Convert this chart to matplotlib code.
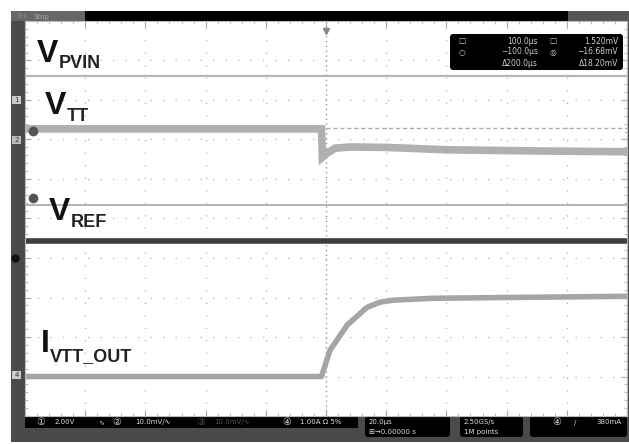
import matplotlib.pyplot as plt
from matplotlib.patches import Rectangle, FancyBboxPatch

# time in us (20 us/div), levels in screen divisions (10 x 10 graticule)
pvin_t = [-100, 100]
pvin_v = [3.62, 3.62]

vtt_t = [-100, -1.5, -1.2, 0.5, 3, 8, 20, 40, 70, 100]
vtt_v = [2.27, 2.27, 1.55, 1.66, 1.78, 1.81, 1.80, 1.74, 1.71, 1.69]

vtt_ref_t = [0, 100]
vtt_ref_v = [2.30, 2.30]

ref_line_t = [-100, 100]
ref_line_v = [0.34, 0.34]

vref_t = [-100, 100]
vref_v = [-0.57, -0.57]

iout_t = [-100, -1.5, 1.3, 7.0, 13.6, 17.9, 22, 35.5, 60, 100]
iout_v = [-4.0, -4.0, -3.34, -2.70, -2.25, -2.12, -2.07, -2.02, -2.0, -1.97]

marker_v = [2.22, 0.52]

labels = [('V', 'PVIN', 37, 62, 68),
          ('V', 'TT', 45, 114, 121),
          ('V', 'REF', 49, 220, 227),
          ('I', 'VTT_OUT', 41, 352, 361)]

cursor_rows = [('\u25a1', '100.0\u00b5s', '\u25a1', '1.520mV'),
               ('\u25cb', '\u2212100.0\u00b5s', '\u25ce', '\u221216.68mV'),
               ('', '\u0394200.0\u00b5s', '', '\u039418.20mV')]

W, H = 629, 444
fig = plt.figure(figsize=(W / 100, H / 100), dpi=100)
fig.patch.set_facecolor('white')

bg = fig.add_axes([0, 0, 1, 1])
bg.set_xlim(0, W)
bg.set_ylim(H, 0)
bg.axis('off')

# scope frame
bg.add_patch(Rectangle((11, 11), W - 11, 431, color='#4a4a4a', lw=0))
bg.add_patch(Rectangle((11, 11), 74, 10, color='#666666', lw=0))
bg.add_patch(Rectangle((85, 11), 483, 10, color='black', lw=0))
bg.add_patch(Rectangle((568, 11), W - 568, 10, color='#555555', lw=0))
bg.text(16, 16.5, 'Tek', color='#888888', fontsize=5, va='center')
bg.text(34, 16.5, 'Stop', color='#aaaaaa', fontsize=5, va='center')

# bottom info bar
bg.add_patch(Rectangle((25, 416), 333, 12, color='black', lw=0))
for x0, x1 in [(365, 450), (460, 523), (530, 627)]:
    bg.add_patch(FancyBboxPatch((x0, 416), x1 - x0, 21,
                                boxstyle='round,pad=0,rounding_size=3',
                                color='black', lw=0))
small = dict(color='#dddddd', fontsize=5, va='center')
bg.text(36, 422, '\u2460', **dict(small, fontsize=7))
bg.text(55, 422, '2.00V', **small)
bg.text(98, 422, '\u223f', **small)
bg.text(112, 422, '\u2461', **dict(small, fontsize=7))
bg.text(135, 422, '10.0mV/\u223f', **small)
bg.text(196, 422, '\u2462', **dict(small, fontsize=7, color='#555555'))
bg.text(214, 422, '10.0mV/\u223f', **dict(small, color='#555555'))
bg.text(282, 422, '\u2463', **dict(small, fontsize=7))
bg.text(300, 422, '1.00A \u03a9 5%', **small)
bg.text(369, 422, '20.0\u00b5s', **small)
bg.text(369, 432, '\u229e\u21920.00000 s', **small)
bg.text(464, 422, '2.50GS/s', **small)
bg.text(464, 432, '1M points', **small)
bg.text(552, 422, '\u2463', **dict(small, fontsize=7))
bg.text(574, 422, '\u2215', **small)
bg.text(596, 422, '380mA', **small)

# channel markers on left edge
for y, s, fc in [(100, '1', '#cccccc'), (140, '2', '#bbbbbb'),
                 (375, '4', '#cccccc')]:
    bg.add_patch(Rectangle((12, y - 4), 9, 8, color=fc, lw=0))
    bg.text(16.5, y, s, fontsize=5, ha='center', va='center', color='#333333')
bg.plot([15], [258], 'o', color='#111111', ms=5)

# graticule area
ax = fig.add_axes([25 / W, (H - 416) / H, 602 / W, 395 / H])
ax.set_xlim(-100, 100)
ax.set_ylim(-5, 5)
ax.set_facecolor('white')
for sp in ax.spines.values():
    sp.set_color('#bbbbbb')
    sp.set_linewidth(0.8)
ax.set_xticks(range(-100, 101, 20))
ax.set_xticks(range(-100, 101, 4), minor=True)
ax.set_yticks(range(-5, 6))
ax.set_yticks([i / 5 for i in range(-25, 26)], minor=True)
ax.tick_params(which='both', direction='in', top=True, right=True,
               labelbottom=False, labelleft=False, color='#aaaaaa')
ax.tick_params(which='major', length=4)
ax.tick_params(which='minor', length=2)

grid = dict(color='#b0b0b0', lw=0.9, linestyle=(0, (1, 9)))
for t in range(-80, 81, 20):
    if t != 0:
        ax.axvline(t, **grid)
for v in range(-4, 5):
    ax.axhline(v, **grid)
ax.axvline(0, color='#999999', lw=1, linestyle=(0, (1, 2.5)))

# traces
ax.plot(pvin_t, pvin_v, color='#b5b5b5', lw=1.6)
ax.plot(ref_line_t, ref_line_v, color='#a0a0a0', lw=1.1)
ax.plot(vtt_ref_t, vtt_ref_v, color='#aaaaaa', lw=1.0, linestyle=(0, (3, 2)))
ax.plot(vtt_t, vtt_v, color='#b0b0b0', lw=5.5, solid_joinstyle='miter')
ax.plot(vref_t, vref_v, color='#3c3c3c', lw=4)
ax.plot(iout_t, iout_v, color='#a5a5a5', lw=4)
ax.plot([-97.5] * len(marker_v), marker_v, 'o', color='#555555', ms=6)
ax.plot([0], [4.75], marker='v', color='#888888', ms=5)

# overlay for text drawn over the graticule
top = fig.add_axes([0, 0, 1, 1])
top.set_xlim(0, W)
top.set_ylim(H, 0)
top.axis('off')
top.patch.set_alpha(0)

# cursor readout
top.add_patch(FancyBboxPatch((450, 34), 173, 36,
                             boxstyle='round,pad=0,rounding_size=3',
                             color='black', lw=0))
for i, (s1, v1, s2, v2) in enumerate(cursor_rows):
    y = 41 + i * 11
    top.text(462, y, s1, color='#cccccc', fontsize=5.5, ha='center', va='center')
    top.text(538, y, v1, color='#cccccc', fontsize=5.5, ha='right', va='center')
    top.text(553, y, s2, color='#cccccc', fontsize=5.5, ha='center', va='center')
    top.text(618, y, v2, color='#cccccc', fontsize=5.5, ha='right', va='center')

# signal names
fig.canvas.draw()
for big, sub, x, yb, ys in labels:
    t = top.text(x, yb, big, fontsize=23, fontweight='bold',
                 family='Liberation Sans', va='baseline', color='#111111')
    bb = t.get_window_extent(renderer=fig.canvas.get_renderer())
    x_sub = top.transData.inverted().transform((bb.x1, bb.y0))[0]
    top.text(x_sub, ys, sub, fontsize=13, fontweight='bold',
             family='Liberation Sans', va='baseline', color='#222222')

fig.savefig('out.png', dpi=100)
